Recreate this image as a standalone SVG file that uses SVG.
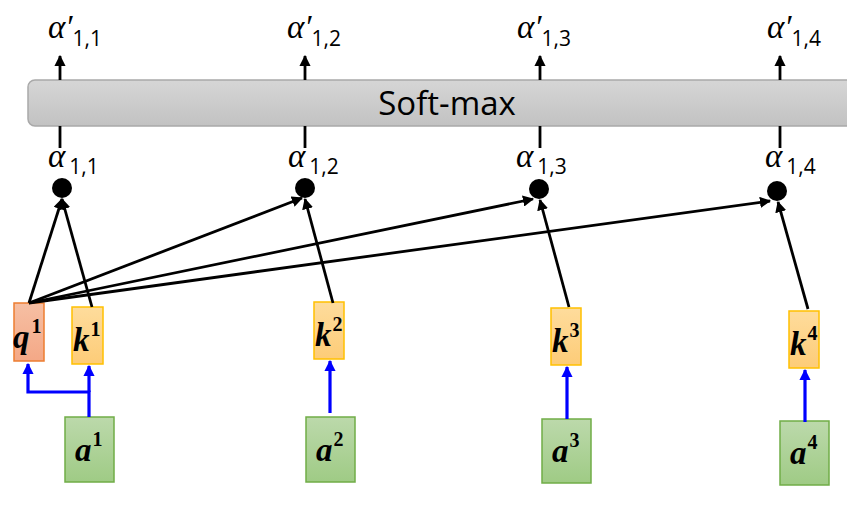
<svg xmlns="http://www.w3.org/2000/svg" width="847" height="506" viewBox="0 0 847 506">
<defs>
<linearGradient id="gGray" x1="0" y1="0" x2="0" y2="1"><stop offset="0" stop-color="#d6d6d6"/><stop offset="1" stop-color="#c2c2c2"/></linearGradient>
<linearGradient id="gQ" x1="0" y1="0" x2="0" y2="1"><stop offset="0" stop-color="#f6bfa3"/><stop offset="1" stop-color="#f4a886"/></linearGradient>
<linearGradient id="gK" x1="0" y1="0" x2="0" y2="1"><stop offset="0" stop-color="#fedc9c"/><stop offset="1" stop-color="#fdcc78"/></linearGradient>
<linearGradient id="gA" x1="0" y1="0" x2="0" y2="1"><stop offset="0" stop-color="#bcd9ab"/><stop offset="1" stop-color="#9fcb85"/></linearGradient>
<marker id="ab" viewBox="0 0 10 10" refX="9" refY="5" markerWidth="4" markerHeight="4" orient="auto" markerUnits="strokeWidth"><path d="M0,0 L10,5 L0,10 z" fill="#000"/></marker>
<marker id="abl" viewBox="0 0 10 10" refX="9" refY="5" markerWidth="3.5" markerHeight="3.5" orient="auto" markerUnits="strokeWidth"><path d="M0,0 L10,5 L0,10 z" fill="#0000ff"/></marker>
</defs>
<style>
.al{font-family:"Liberation Serif","DejaVu Serif",serif;font-style:italic;font-size:33px;fill:#000}
.sb{font-family:"Open Sans","Liberation Sans",sans-serif;font-style:normal;font-size:21px;fill:#000}
.bx{font-family:"Liberation Serif","DejaVu Serif",serif;font-style:italic;font-weight:bold;font-size:33px;fill:#000}
.sp{font-family:"Liberation Serif","DejaVu Serif",serif;font-style:normal;font-weight:bold;font-size:20px;fill:#000}
.ln{stroke:#000;stroke-width:2.8;fill:none}
.bl{stroke:#0000ff;stroke-width:3.2;fill:none}
.q{fill:url(#gQ);stroke:#ed7d31;stroke-width:1.5}
.k{fill:url(#gK);stroke:#ffc000;stroke-width:1.5}
.a{fill:url(#gA);stroke:#70ad47;stroke-width:1.5}
</style>
<g id="softmax">
<rect x="28" y="80" width="840" height="46" rx="7" fill="url(#gGray)" stroke="#a9a9a9" stroke-width="1.5"/>
<text x="447" y="115" text-anchor="middle" font-family="Open Sans, Liberation Sans, sans-serif" font-size="33" fill="#000">Soft-max</text>
</g>
<g id="labels-top">
<text class="al" x="48" y="38">α′<tspan class="sb" dy="8">1,1</tspan></text>
<text class="al" x="287" y="38">α′<tspan class="sb" dy="8">1,2</tspan></text>
<text class="al" x="517" y="38">α′<tspan class="sb" dy="8">1,3</tspan></text>
<text class="al" x="767" y="38">α′<tspan class="sb" dy="8">1,4</tspan></text>
</g>
<g id="labels-bottom">
<text class="al" x="48" y="167">α<tspan class="sb" dx="4" dy="7">1,1</tspan></text>
<text class="al" x="288" y="167">α<tspan class="sb" dx="4" dy="7">1,2</tspan></text>
<text class="al" x="516" y="167">α<tspan class="sb" dx="4" dy="7">1,3</tspan></text>
<text class="al" x="765" y="167">α<tspan class="sb" dx="4" dy="7">1,4</tspan></text>
</g>
<g id="dots">
<circle cx="62" cy="188" r="10" fill="#000"/>
<circle cx="305" cy="188" r="10" fill="#000"/>
<circle cx="539" cy="189" r="10" fill="#000"/>
<circle cx="777" cy="191" r="10" fill="#000"/>
</g>
<g id="q1"><rect class="q" x="14" y="303" width="30" height="58"/><text class="bx" x="13" y="348">q<tspan class="sp" dx="2" dy="-15">1</tspan></text></g>
<g id="k1"><rect class="k" x="72" y="307" width="31" height="57"/><text class="bx" x="73" y="351">k<tspan class="sp" dx="1" dy="-15">1</tspan></text></g>
<g id="k2"><rect class="k" x="314" y="302" width="30" height="57"/><text class="bx" x="315" y="346">k<tspan class="sp" dx="1" dy="-15">2</tspan></text></g>
<g id="k3"><rect class="k" x="551" y="308" width="30" height="57"/><text class="bx" x="552" y="352">k<tspan class="sp" dx="1" dy="-15">3</tspan></text></g>
<g id="k4"><rect class="k" x="789" y="311" width="30" height="57"/><text class="bx" x="790" y="355">k<tspan class="sp" dx="1" dy="-15">4</tspan></text></g>
<g id="a1"><rect class="a" x="65" y="417" width="49" height="65"/><text class="bx" x="75" y="461">a<tspan class="sp" dx="1" dy="-15">1</tspan></text></g>
<g id="a2"><rect class="a" x="306" y="417" width="49" height="65"/><text class="bx" x="316" y="461">a<tspan class="sp" dx="1" dy="-15">2</tspan></text></g>
<g id="a3"><rect class="a" x="542" y="419" width="49" height="64"/><text class="bx" x="552" y="462">a<tspan class="sp" dx="1" dy="-15">3</tspan></text></g>
<g id="a4"><rect class="a" x="780" y="421" width="49" height="64"/><text class="bx" x="790" y="464">a<tspan class="sp" dx="1" dy="-15">4</tspan></text></g>
<g id="connectors">
<line class="ln" x1="60" y1="80" x2="60" y2="56" marker-end="url(#ab)"/>
<line class="ln" x1="305" y1="80" x2="305" y2="56" marker-end="url(#ab)"/>
<line class="ln" x1="540" y1="80" x2="540" y2="56" marker-end="url(#ab)"/>
<line class="ln" x1="780" y1="80" x2="780" y2="56" marker-end="url(#ab)"/>
<line class="ln" x1="60" y1="126" x2="60" y2="148"/>
<line class="ln" x1="305" y1="126" x2="305" y2="148"/>
<line class="ln" x1="540" y1="126" x2="540" y2="148"/>
<line class="ln" x1="780" y1="126" x2="780" y2="148"/>
<line class="ln" x1="29" y1="303" x2="62" y2="199" marker-end="url(#ab)"/>
<line class="ln" x1="92" y1="307" x2="62" y2="199" marker-end="url(#ab)"/>
<line class="ln" x1="29" y1="303" x2="302" y2="198" marker-end="url(#ab)"/>
<line class="ln" x1="333" y1="303" x2="305" y2="199" marker-end="url(#ab)"/>
<line class="ln" x1="29" y1="303" x2="533" y2="199" marker-end="url(#ab)"/>
<line class="ln" x1="569" y1="307" x2="540" y2="200" marker-end="url(#ab)"/>
<line class="ln" x1="29" y1="303" x2="770" y2="201" marker-end="url(#ab)"/>
<line class="ln" x1="808" y1="309" x2="778" y2="202" marker-end="url(#ab)"/>
<polyline class="bl" points="89,417 89,392 28,392 28,364" marker-end="url(#abl)"/>
<line class="bl" x1="89" y1="392" x2="89" y2="366" marker-end="url(#abl)"/>
<line class="bl" x1="330" y1="413" x2="330" y2="361" marker-end="url(#abl)"/>
<line class="bl" x1="567" y1="419" x2="567" y2="367" marker-end="url(#abl)"/>
<line class="bl" x1="805" y1="422" x2="805" y2="370" marker-end="url(#abl)"/>
</g>
</svg>
